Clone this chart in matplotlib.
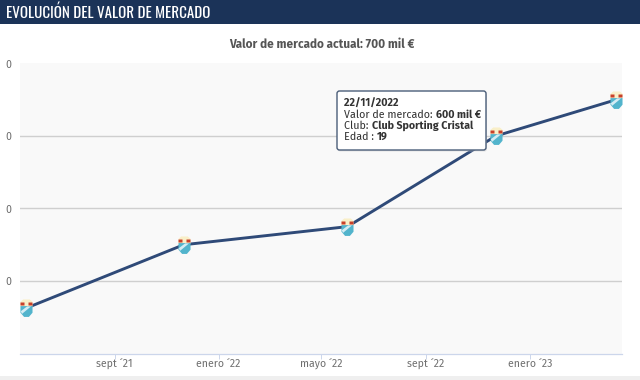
import matplotlib
matplotlib.use("Agg")
import matplotlib.pyplot as plt
from matplotlib.patches import Rectangle, FancyBboxPatch
from matplotlib.path import Path
from datetime import date
import matplotlib.font_manager as fm

names = {f.name for f in fm.fontManager.ttflist}


def pick(*cands):
    for c in cands:
        if c in names:
            return c
    return "DejaVu Sans"


HEAD_FONT = pick("Oswald", "Fjalla One", "Pathway Gothic One", "Liberation Sans Narrow", "Liberation Sans")
BODY_FONT = pick("Fira Sans", "Open Sans", "Lato", "Liberation Sans")

title = "EVOLUCIÓN DEL VALOR DE MERCADO"
subtitle = "Valor de mercado actual: 700 mil €"
dates = [date(2021, 5, 20), date(2021, 11, 21), date(2022, 6, 1), date(2022, 11, 22), date(2023, 4, 12)]
values = [125, 300, 350, 600, 700]
y_ticks = [200, 400, 600, 800]
y_tick_labels = ["0", "0", "0", "0"]
x_ticks = [date(2021, 9, 1), date(2022, 1, 1), date(2022, 5, 1), date(2022, 9, 1), date(2023, 1, 1)]
x_tick_labels = ["sept ´21", "enero ´22", "mayo ´22", "sept ´22", "enero ´23"]

W, H = 640, 380
fig = plt.figure(figsize=(W / 100, H / 100), dpi=100, facecolor="white")


def rect(x0, y0, x1, y1):
    return [x0 / W, 1 - y1 / H, (x1 - x0) / W, (y1 - y0) / H]


# header band and footer strip
fig.add_artist(Rectangle((0, 1 - 24 / H), 1, 24 / H, transform=fig.transFigure, fc="#1b3358", ec="none"))
fig.add_artist(Rectangle((0, 0), 1, 4 / H, transform=fig.transFigure, fc="#efefef", ec="none"))
fig.text(6 / W, 1 - 12.5 / H, title, color="white", fontsize=10.8, family=HEAD_FONT, va="center", ha="left")
fig.text(322 / W, 1 - 44 / H, subtitle, color="#555555", fontsize=8.5, fontweight="bold", family=BODY_FONT,
         va="center", ha="center")

ax = fig.add_axes(rect(20, 63.5, 622, 353.5))
ax.set_facecolor("#f9f9f9")
ax.set_xlim(date(2021, 5, 13), date(2023, 4, 19))
ax.set_ylim(0, 800)
for s in ax.spines.values():
    s.set_visible(False)
ax.spines["bottom"].set_visible(True)
ax.spines["bottom"].set_color("#ccd6eb")
ax.spines["bottom"].set_linewidth(0.9)

ax.set_yticks(y_ticks)
ax.set_yticklabels(y_tick_labels)
ax.yaxis.grid(True, color="#cfcfcf", linewidth=1.0)
ax.yaxis.get_gridlines()[-1].set_visible(False)
ax.set_axisbelow(True)
ax.tick_params(axis="y", length=0, pad=6, labelsize=7.6, labelcolor="#707070")
for lab in ax.get_yticklabels():
    lab.set_family(BODY_FONT)

ax.set_xticks(x_ticks)
ax.set_xticklabels(x_tick_labels)
ax.tick_params(axis="x", length=3.5, width=0.7, color="#ccd6eb", pad=0.2, labelsize=7.6, labelcolor="#707070")
for lab in ax.get_xticklabels():
    lab.set_family(BODY_FONT)

ax.plot(dates, values, color="#2f4a78", linewidth=2.1, zorder=3, solid_capstyle="round")


def crest_part(verts):
    # a zero-area anchor fixes the same marker scale for every layer of the crest
    anchor = [(1.5, 1.5), (1.5, 1.5)]
    vv = anchor + list(verts) + [verts[0]]
    codes = [Path.MOVETO, Path.LINETO, Path.MOVETO] + [Path.LINETO] * (len(verts) - 1) + [Path.CLOSEPOLY]
    return Path(vv, codes)


top = crest_part([(-1, 0.3), (-1, 1.1), (-0.55, 1.5), (0.55, 1.5), (1, 1.1), (1, 0.3)])
low = crest_part([(-1, 0.4), (1, 0.4), (1, -0.7), (0.4, -1.4), (-0.4, -1.4), (-1, -0.7)])
stripe = crest_part([(-0.75, -0.9), (0.75, 0.35), (0.1, 0.35), (-0.95, -0.45)])
bandl = crest_part([(-1, 0.55), (-0.3, 0.55), (-0.3, 0.95), (-1, 0.95)])
bandr = crest_part([(0.3, 0.55), (1, 0.55), (1, 0.95), (0.3, 0.95)])
for m, c in [(top, "#f9efc8"), (low, "#52b4cc"), (stripe, "#d4ecf4"), (bandl, "#c8402a"), (bandr, "#c8402a")]:
    ax.plot(dates, values, linestyle="none", marker=m, markersize=13, markerfacecolor=c, markeredgecolor="none",
            zorder=4, clip_on=False)

# tooltip
tip = fig.add_axes(rect(335, 89, 489, 153), zorder=10)
tip.set_xlim(0, 154)
tip.set_ylim(64, 0)
tip.axis("off")
tip.add_patch(FancyBboxPatch((3, 3.5), 149, 59, boxstyle="round,pad=0,rounding_size=2.5", fc="#cfcfcf", ec="none",
                             alpha=0.5, clip_on=False))
tip.add_patch(FancyBboxPatch((2, 2), 149, 59, boxstyle="round,pad=0,rounding_size=2.5", fc="white", ec="#4a5d78",
                             linewidth=1.0, clip_on=False))
fs = 7.7
tc = "#333333"
rows = [
    [("22/11/2022", True)],
    [("Valor de mercado: ", False), ("600 mil €", True)],
    [("Club: ", False), ("Club Sporting Cristal", True)],
    [("Edad : ", False), ("19", True)],
]
fig.canvas.draw()
rend = fig.canvas.get_renderer()
for i, row in enumerate(rows):
    x = 9
    y = 14.7 + i * 11
    for txt, bold in row:
        t = tip.text(x, y, txt, fontsize=fs, color=tc, family=BODY_FONT, fontweight="bold" if bold else "normal",
                     va="center", ha="left")
        adv = t.get_window_extent(rend).width
        if txt.endswith(" "):
            adv += 0.3
        x += adv

fig.savefig("out.png", dpi=100, facecolor="white")
